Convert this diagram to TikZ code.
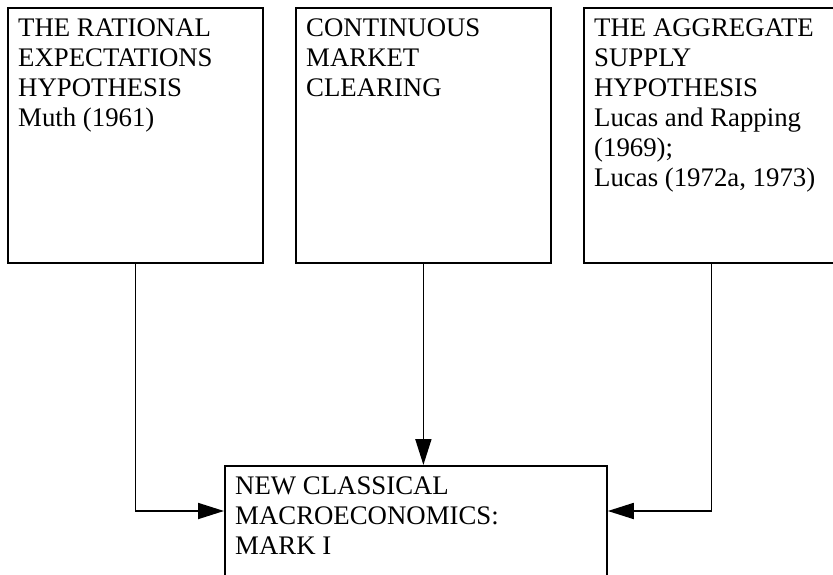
\documentclass[tikz,border=0pt]{standalone}
\usepackage{fontspec}
\setmainfont{Liberation Serif}
\usetikzlibrary{positioning,arrows.meta}

\begin{document}
\begin{tikzpicture}[x=1pt,y=-1pt,
  hyp/.style={draw,line width=1.8pt,minimum width=255pt,minimum height=255pt,anchor=north west,inner sep=0pt},
  txt/.style={inner sep=0pt,align=left,anchor=north west,font=\fontsize{26.8}{30}\selectfont},
  link/.style={line width=1.8pt,-{Triangle[length=26pt,width=16pt]}}]
\useasboundingbox (0,0) rectangle (833,575);
\clip (0,0) rectangle (833,575);
% the three starting boxes
\node[hyp] (rat) at (7,7) {};
\node[txt,below right=12pt and 11pt of rat.north west] (ratlbl) {THE RATIONAL\\EXPECTATIONS\\HYPOTHESIS\\Muth (1961)};
\node[hyp] (mkt) at (295,7) {};
\node[txt,below right=12pt and 11pt of mkt.north west] (mktlbl) {CONTINUOUS\\MARKET\\CLEARING};
\node[hyp] (sup) at (583,7) {};
\node[txt,below right=12pt and 11pt of sup.north west] (suplbl) {THE AGGREGATE\\SUPPLY\\HYPOTHESIS\\Lucas and Rapping\\(1969);\\Lucas (1972a, 1973)};
% the result
\node[hyp,minimum width=382pt,minimum height=150pt] (ncm) at (224,465) {};
\node[txt,below right=12pt and 11pt of ncm.north west] (ncmlbl) {NEW CLASSICAL\\MACROECONOMICS:\\MARK I};
% arrows
\draw[link] (rat.south) |- ([yshift=-46pt]ncm.north west);
\draw[link] (mkt.south) -- (ncm.north-|mkt.south);
\draw[link] (sup.south) |- ([yshift=-46pt]ncm.north east);
\end{tikzpicture}
\end{document}
